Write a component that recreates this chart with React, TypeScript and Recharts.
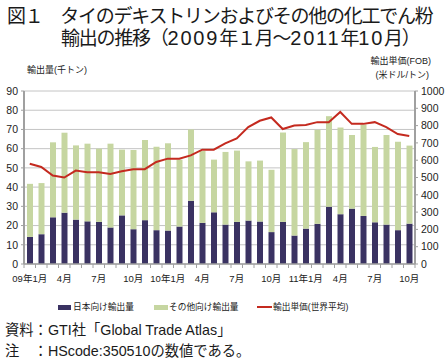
import React from "react";
import { ComposedChart, Bar, Line, XAxis, YAxis, CartesianGrid } from "recharts";

const months = [
  "2009-01", "2009-02", "2009-03", "2009-04", "2009-05", "2009-06", "2009-07", "2009-08", "2009-09", "2009-10", "2009-11", "2009-12",
  "2010-01", "2010-02", "2010-03", "2010-04", "2010-05", "2010-06", "2010-07", "2010-08", "2010-09", "2010-10", "2010-11", "2010-12",
  "2011-01", "2011-02", "2011-03", "2011-04", "2011-05", "2011-06", "2011-07", "2011-08", "2011-09", "2011-10",
];

const monthLabels = [
  "09年1月", "", "", "4月", "", "", "7月", "", "", "10月", "", "",
  "10年1月", "", "", "4月", "", "", "7月", "", "", "10月", "", "",
  "11年1月", "", "", "4月", "", "", "7月", "", "", "10月",
];

// 千トン
const japan = [
  14.1, 15.5, 24.3, 26.7, 23.1, 22.2, 21.9, 19.0, 25.3, 18.1, 22.8, 17.6,
  17.4, 19.5, 32.9, 21.4, 26.9, 20.5, 21.9, 22.6, 22.1, 16.6, 21.9, 14.8,
  18.4, 20.9, 29.8, 25.9, 28.8, 25.0, 21.7, 20.5, 17.6, 21.0,
];

const others = [
  27.6, 26.6, 39.0, 41.6, 38.6, 40.4, 38.1, 43.6, 34.2, 41.2, 41.7, 43.4,
  45.4, 34.8, 37.1, 37.4, 27.4, 37.8, 37.1, 30.8, 31.7, 32.4, 46.5, 45.0,
  45.0, 48.9, 47.1, 45.1, 38.3, 47.6, 39.2, 46.6, 46.0, 40.6,
];

// 米ドル/トン
const unitPrice = [
  579, 561, 511, 500, 540, 531, 531, 521, 536, 548, 548, 590,
  609, 609, 628, 661, 661, 697, 726, 791, 828, 847, 780, 801,
  803, 820, 820, 879, 810, 810, 820, 791, 751, 740,
];

const leftTicks = [0, 10, 20, 30, 40, 50, 60, 70, 80, 90];
const rightTicks = [0, 100, 200, 300, 400, 500, 600, 700, 800, 900, 1000];

const data = months.map((m, i) => ({
  month: m,
  label: monthLabels[i],
  japan: japan[i],
  others: others[i],
  price: unitPrice[i],
}));

const FONT = '"Liberation Sans", "Noto Sans CJK JP", sans-serif';
const NAVY = "#3a3262";
const GREEN = "#c6d6a1";
const RED = "#c42a1f";
const AXIS = "#a0a0a0";

const PLOT_LEFT = 24;
const PLOT_RIGHT = 415;
const BAND = (PLOT_RIGHT - PLOT_LEFT) / months.length;

const MonthTick = (props: any) => {
  const { x, y, index } = props;
  const label = monthLabels[index] ?? "";
  const bx = x - BAND / 2;
  return (
    <g>
      <line x1={bx} x2={bx} y1={264} y2={268} stroke={AXIS} strokeWidth={1} />
      {index === months.length - 1 && (
        <line x1={x + BAND / 2} x2={x + BAND / 2} y1={264} y2={268} stroke={AXIS} strokeWidth={1} />
      )}
      {label && (
        <text x={x} y={y} dy="0.71em" textAnchor="middle" fontSize={9.5} fill="#222" fontFamily={FONT}>
          {label}
        </text>
      )}
    </g>
  );
};

const txt = (style: React.CSSProperties): React.CSSProperties => ({
  position: "absolute",
  whiteSpace: "nowrap",
  fontFamily: FONT,
  color: "#1a1a1a",
  ...style,
});

const digits: React.CSSProperties = { fontSize: 20, letterSpacing: 1.8 };

export default function App() {
  return (
    <div style={{ position: "absolute", left: 0, top: 0, width: 446, height: 362, background: "#fff", overflow: "hidden" }}>
      <div style={txt({ left: 7, top: 6, fontSize: 19, lineHeight: "22px", letterSpacing: -1.25 })}>
        図１　タイのデキストリンおよびその他の化工でん粉
      </div>
      <div style={txt({ left: 61, top: 27, fontSize: 19, lineHeight: "22px", letterSpacing: -1.25 })}>
        輸出の推移（<span style={digits}>2009</span>年１月～<span style={digits}>2011</span>年<span style={digits}>10</span>月）
      </div>

      <div style={txt({ left: 27, top: 64, fontSize: 9, lineHeight: "12px" })}>輸出量(千トン)</div>
      <div style={txt({ right: 15, top: 55, fontSize: 9, lineHeight: "12px", textAlign: "right" })}>輸出単価(FOB)</div>
      <div style={txt({ right: 17, top: 69, fontSize: 9, lineHeight: "12px", textAlign: "right" })}>(米ドル/トン)</div>

      <div style={{ position: "absolute", left: 0, top: 0 }}>
        <ComposedChart width={446} height={300} data={data} margin={{ top: 91, right: 0, left: 0, bottom: 0 }}>
          <CartesianGrid yAxisId="l" vertical={false} stroke="#c4c4c4" strokeWidth={1} />
          <XAxis
            dataKey="month"
            height={36}
            interval={0}
            axisLine={{ stroke: AXIS, strokeWidth: 1.5 }}
            tickLine={false}
            tickSize={4}
            tickMargin={7}
            tick={<MonthTick />}
          />
          <YAxis
            yAxisId="l"
            width={24}
            domain={[0, 90]}
            ticks={leftTicks}
            interval={0}
            axisLine={{ stroke: AXIS, strokeWidth: 2 }}
            tickLine={{ stroke: AXIS }}
            tickSize={3}
            tickMargin={3}
            tick={{ fontSize: 10.5, fill: "#222", fontFamily: FONT }}
          />
          <YAxis
            yAxisId="r"
            orientation="right"
            width={31}
            domain={[0, 1000]}
            ticks={rightTicks}
            interval={0}
            axisLine={{ stroke: AXIS, strokeWidth: 2 }}
            tickLine={{ stroke: AXIS }}
            tickSize={3}
            tickMargin={3}
            tick={{ fontSize: 10.5, fill: "#222", fontFamily: FONT }}
          />
          <Bar yAxisId="l" dataKey="japan" stackId="a" fill={NAVY} barSize={6} isAnimationActive={false} />
          <Bar yAxisId="l" dataKey="others" stackId="a" fill={GREEN} barSize={6} isAnimationActive={false} />
          <Line
            yAxisId="r"
            type="linear"
            dataKey="price"
            stroke={RED}
            strokeWidth={2}
            dot={false}
            activeDot={false}
            isAnimationActive={false}
          />
        </ComposedChart>
      </div>

      <div style={{ position: "absolute", left: 58, top: 305, width: 13, height: 5, background: NAVY }} />
      <div style={txt({ left: 73, top: 301, fontSize: 8.7, lineHeight: "12px" })}>日本向け輸出量</div>
      <div style={{ position: "absolute", left: 154, top: 305, width: 14, height: 5, background: GREEN }} />
      <div style={txt({ left: 169, top: 301, fontSize: 8.7, lineHeight: "12px" })}>その他向け輸出量</div>
      <div style={{ position: "absolute", left: 257, top: 306, width: 15, height: 2, background: RED }} />
      <div style={txt({ left: 273, top: 301, fontSize: 8.7, lineHeight: "12px" })}>輸出単価(世界平均)</div>

      <div style={txt({ left: 5, top: 321, fontSize: 14.3, lineHeight: "18px" })}>資料：GTI社「Global Trade Atlas」</div>
      <div style={txt({ left: 5, top: 342, fontSize: 14.3, lineHeight: "18px" })}>注　：HScode:350510の数値である。</div>
    </div>
  );
}
